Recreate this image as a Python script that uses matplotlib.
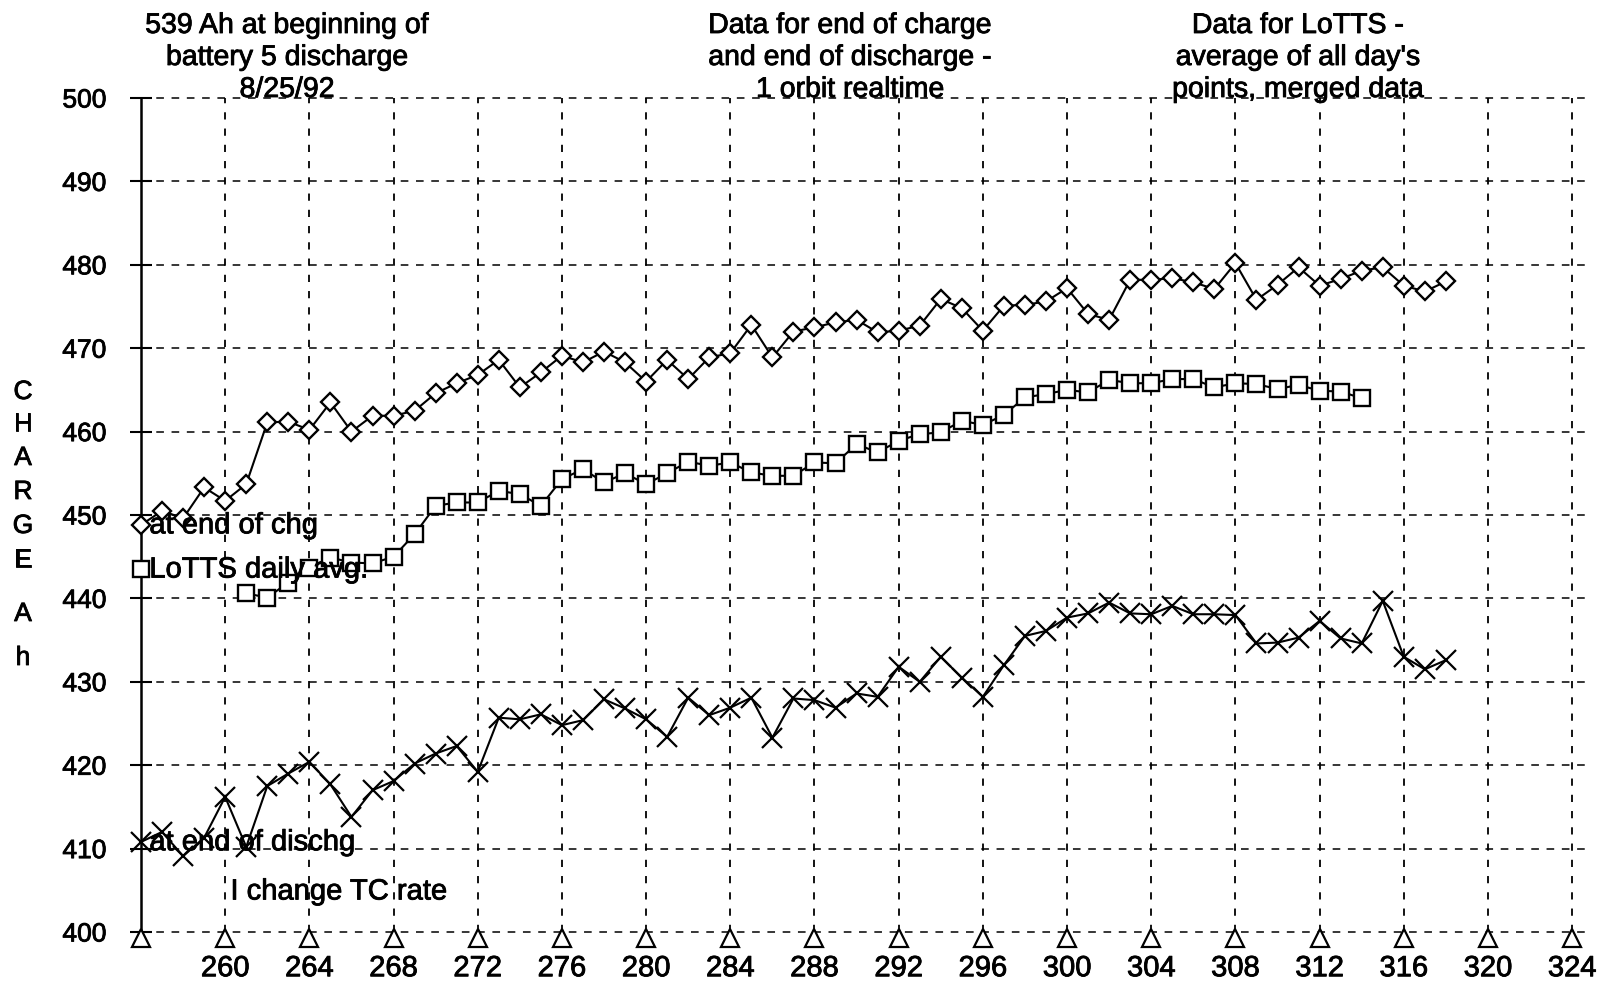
import numpy as np
import matplotlib
matplotlib.use("Agg")
import matplotlib.pyplot as plt
import matplotlib.patheffects as pe
from matplotlib.transforms import ScaledTranslation

plt.rcParams['font.family'] = ['Liberation Sans', 'DejaVu Sans']

nan = np.nan
days = list(range(256, 319))

end_of_chg = [448.8, 450.5, 449.6, 453.3, 451.7, 453.7, 461.1, 461.2, 460.2, 463.5,
              460.0, 461.9, 461.9, 462.5, 464.6, 465.8, 466.8, 468.6, 465.3, 467.1,
              469.1, 468.3, 469.6, 468.3, 466.0, 468.6, 466.3, 468.9, 469.4, 472.8,
              468.9, 472.0, 472.5, 473.1, 473.4, 471.9, 472.1, 472.7, 475.9, 474.8,
              472.1, 475.1, 475.2, 475.6, 477.2, 474.1, 473.4, 478.2, 478.2, 478.4,
              477.9, 477.1, 480.2, 475.8, 477.6, 479.7, 477.5, 478.3, 479.3, 479.7,
              477.5, 476.8, 478.0]

lotts_avg = [443.5, nan, nan, nan, nan, 440.6, 440.1, 441.9, 443.7, 444.9,
             444.3, 444.2, 445.0, 447.7, 451.1, 451.5, 451.5, 452.9, 452.5, 451.1,
             454.3, 455.5, 453.9, 455.0, 453.7, 455.0, 456.4, 455.9, 456.3, 455.1,
             454.7, 454.7, 456.3, 456.2, 458.5, 457.5, 458.9, 459.7, 459.9, 461.3,
             460.8, 462.0, 464.1, 464.5, 465.0, 464.7, 466.2, 465.8, 465.8, 466.3,
             466.3, 465.3, 465.8, 465.7, 465.1, 465.6, 464.9, 464.8, 464.0,
             nan, nan, nan, nan]

end_of_dischg = [410.8, 412.0, 409.1, 411.3, 416.2, 410.2, 417.5, 419.0, 420.4, 417.7,
                 413.8, 417.0, 418.1, 420.2, 421.4, 422.3, 419.2, 425.7, 425.5, 426.1,
                 424.8, 425.4, 427.9, 426.8, 425.5, 423.4, 428.1, 426.0, 426.9, 428.1,
                 423.3, 428.0, 427.8, 426.9, 428.6, 428.2, 431.8, 430.0, 433.0, 430.5,
                 428.2, 432.0, 435.5, 436.1, 437.7, 438.2, 439.5, 438.2, 438.1, 439.1,
                 438.1, 438.1, 438.0, 434.6, 434.7, 435.3, 437.3, 435.2, 434.6, 439.7,
                 433.0, 431.5, 432.6]

xtick_labels = list(range(260, 325, 4))
tick_marks = list(range(256, 325, 4))
yticks = list(range(400, 501, 10))

title_blocks = [
    ["539 Ah at beginning of", "battery 5 discharge", "8/25/92"],
    ["Data for end of charge", "and end of discharge -", "1 orbit realtime"],
    ["Data for LoTTS -", "average of all day's", "points, merged data"],
]
ylabel_chars = ["C", "H", "A", "R", "G", "E", "A", "h"]

thick = [pe.withStroke(linewidth=0.6, foreground='black')]

W, H = 1606, 988
fig = plt.figure(figsize=(W / 100, H / 100), dpi=100)
ax_l, ax_r, ax_t, ax_b = 141, 1589, 98, 932
ax = fig.add_axes([ax_l / W, 1 - ax_b / H, (ax_r - ax_l) / W, (ax_b - ax_t) / H])
ax.set_xlim(256, 324.8)
ax.set_ylim(400, 500)

for s in ['top', 'right', 'bottom']:
    ax.spines[s].set_visible(False)
ax.spines['left'].set_linewidth(1.8)
ax.spines['left'].set_color('black')

dash = (0, (5, 5))
for y in yticks:
    ax.axhline(y, ls=dash, lw=1.1, color='black', clip_on=False, zorder=1)
for x in xtick_labels:
    ax.axvline(x, ls=(0, (4, 5)), lw=1.3, color='black', clip_on=False, zorder=1)

ax.set_yticks(yticks)
ax.set_yticklabels([str(v) for v in yticks])
ax.tick_params(axis='y', direction='inout', length=16, width=1.5, pad=17, labelsize=19)
ax.set_xticks(xtick_labels)
ax.set_xticklabels([str(v) for v in xtick_labels])
ax.tick_params(axis='x', length=0, pad=16, labelsize=21)
for lab in ax.get_xticklabels() + ax.get_yticklabels():
    lab.set_path_effects(thick)

# triangle tick markers along the baseline
tri_tr = ax.transData + ScaledTranslation(0, -0.06, fig.dpi_scale_trans)
ybase = ax.get_ylim()[0]
ax.plot(tick_marks, [ybase] * len(tick_marks), ls='none', marker='^', ms=13,
        mfc='white', mec='black', mew=1.6, clip_on=False, transform=tri_tr, zorder=4)

ax.plot(days, end_of_chg, color='black', lw=1.5, marker='D', ms=9,
        mfc='white', mec='black', mew=1.7, zorder=3, clip_on=False)
ax.plot(days, lotts_avg, color='black', lw=1.5, marker='s', ms=12,
        mfc='white', mec='black', mew=1.7, zorder=3, clip_on=False)
ax.plot(days, end_of_dischg, color='black', lw=1.5, marker='x', ms=14,
        mec='black', mew=1.6, zorder=3, clip_on=False)

lab_kw = dict(textcoords='offset points', xytext=(6, -6), ha='left', va='baseline',
              fontsize=21, zorder=5, path_effects=thick)
ax.annotate("at end of chg", xy=(days[0], end_of_chg[0]), **lab_kw)
ax.annotate("LoTTS daily avg.", xy=(days[0], lotts_avg[0]), **lab_kw)
ax.annotate("at end of dischg", xy=(days[0], end_of_dischg[0]), **lab_kw)
ax.text(260.25, 403.9, "I change TC rate", ha='left', va='baseline', fontsize=21,
        zorder=5, path_effects=thick)

# annotation blocks above the plot
centers = [287, 850, 1298]
baselines = [33, 65, 97]
for cx, block in zip(centers, title_blocks):
    for line, by in zip(block, baselines):
        fig.text(cx / W, 1 - by / H, line, ha='center', va='baseline', fontsize=20.5,
                 path_effects=thick)

# stacked vertical axis title
char_y = [392, 424, 458, 492, 526, 560, 614, 658]
for ch, cy in zip(ylabel_chars, char_y):
    fig.text(23 / W, 1 - cy / H, ch, ha='center', va='center', fontsize=19,
             path_effects=thick)

fig.savefig("out.png", dpi=100)
